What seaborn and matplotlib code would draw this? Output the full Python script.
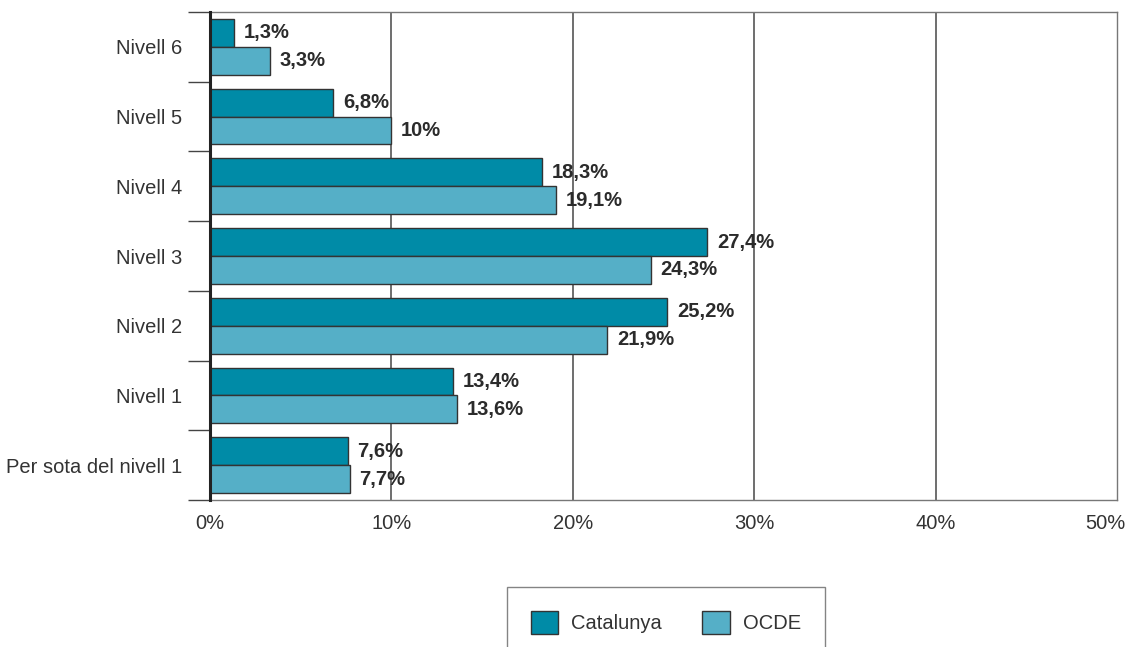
import pandas as pd
import numpy as np
import seaborn as sns
import matplotlib.pyplot as plt
import matplotlib.transforms as mtransforms

# Data (top to bottom)
levels = ['Nivell 6', 'Nivell 5', 'Nivell 4', 'Nivell 3', 'Nivell 2', 'Nivell 1',
          'Per sota del nivell 1']
catalunya = [1.3, 6.8, 18.3, 27.4, 25.2, 13.4, 7.6]
ocde = [3.3, 10, 19.1, 24.3, 21.9, 13.6, 7.7]
groups = ['Catalunya', 'OCDE']
colors = ['#008ba7', '#55afc7']

df = pd.DataFrame({
    'level': levels * 2,
    'value': catalunya + ocde,
    'group': ['Catalunya'] * len(levels) + ['OCDE'] * len(levels),
})

sns.set_style('white')
plt.rcParams['font.family'] = ['Liberation Sans', 'DejaVu Sans']
fs = 14.5

fig = plt.figure(figsize=(11.31, 6.47), dpi=100)
ax = fig.add_axes([210 / 1131, 1 - 500 / 647, 907 / 1131, 488 / 647])

sns.barplot(data=df, x='value', y='level', hue='group', order=levels,
            hue_order=groups, palette=colors, orient='h', width=0.8,
            edgecolor='#333333', linewidth=1, saturation=1, ax=ax, zorder=3)

# Value labels with comma decimals
for cont in ax.containers:
    labels = [f"{b.get_width():g}".replace('.', ',') + '%' for b in cont]
    ax.bar_label(cont, labels=labels, padding=7, fontsize=fs, fontweight='bold',
                 color='#2b2b2b', zorder=5)

ax.set_xlim(0, 50)
ax.set_xticks(np.arange(0, 51, 10))
ax.set_xticklabels([f"{t}%" for t in range(0, 51, 10)], fontsize=fs, color='#333333')
ax.tick_params(axis='x', length=0, pad=10)
ax.set_xlabel('')
ax.set_ylabel('')
# nudge the last label inward so it stays inside the figure
last = ax.get_xticklabels()[-1]
last.set_transform(last.get_transform() + mtransforms.ScaledTranslation(-12 / 100, 0, fig.dpi_scale_trans))

# y: labels at centres, tick marks at category boundaries
ax.set_ylim(len(levels) - 0.5, -0.5)
ax.set_yticks(range(len(levels)))
ax.set_yticklabels(levels, fontsize=fs, color='#333333')
ax.tick_params(axis='y', which='major', left=False, length=0, pad=20)
ax.set_yticks(np.arange(-0.5, len(levels), 1), minor=True)
ax.tick_params(axis='y', which='minor', left=True, length=16, width=1,
               color='#444444', direction='out')

for x in range(10, 50, 10):
    ax.axvline(x, color='#555555', linewidth=1.2, zorder=1)

for side in ['top', 'right', 'bottom']:
    ax.spines[side].set_color('#777777')
    ax.spines[side].set_linewidth(1)
ax.spines['left'].set_color('#222222')
ax.spines['left'].set_linewidth(2.2)
ax.spines['left'].set_zorder(6)

handles, lbls = ax.get_legend_handles_labels()
ax.get_legend().remove()
leg = fig.legend(handles, lbls, loc='upper center', bbox_to_anchor=(666 / 1131, 1 - 587 / 647),
                 ncol=2, fontsize=fs, frameon=True, fancybox=False, edgecolor='#666666',
                 handlelength=1.35, handleheight=1.35, handletextpad=0.65, columnspacing=2.0,
                 borderpad=1.2, borderaxespad=0)
leg.get_frame().set_linewidth(1)
for t in leg.get_texts():
    t.set_color('#333333')

fig.savefig('out.png', dpi=100)
